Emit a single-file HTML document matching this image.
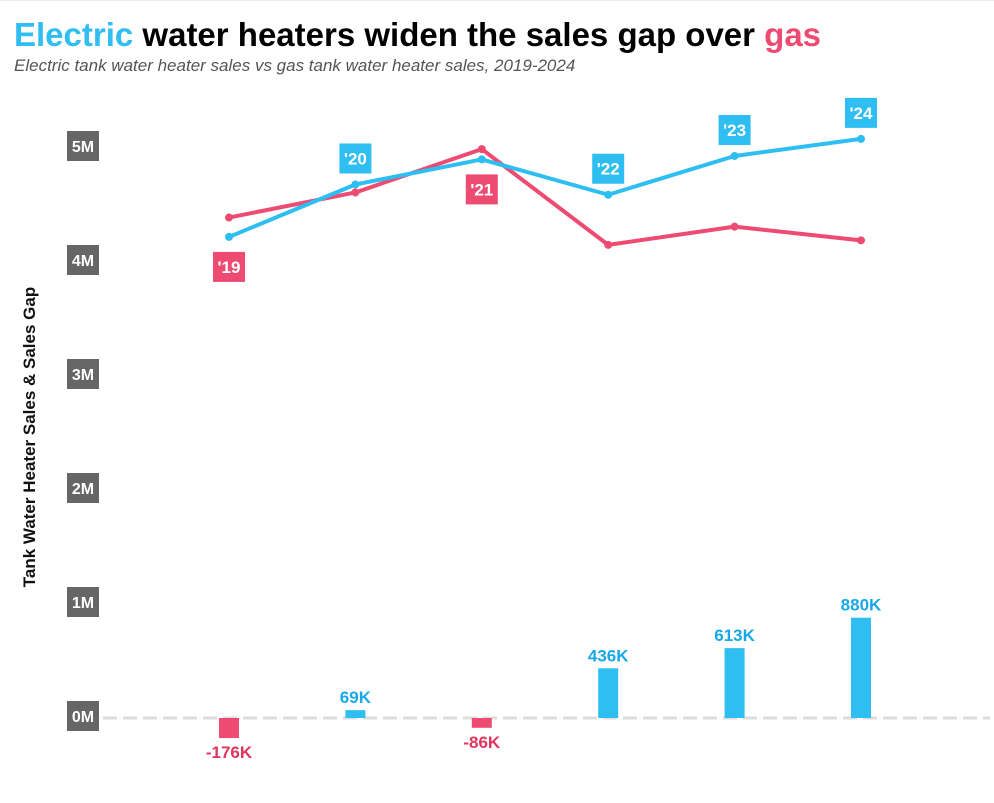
<!DOCTYPE html>
<html><head><meta charset="utf-8"><style>
body{margin:0;background:#fff;font-family:"Liberation Sans",Arial,sans-serif}
#wrap{position:relative;width:994px;height:802px;overflow:hidden;border-top:1px solid #eee}
</style></head><body>
<div id="wrap">
<svg id="chart" width="994" height="802">
<text x="14" y="45" font-size="33" font-weight="bold" font-family="Liberation Sans, sans-serif"><tspan fill="#2ebef2">Electric</tspan><tspan fill="#000"> water heaters widen the sales gap over </tspan><tspan fill="#ee4b72">gas</tspan></text>
<text x="14" y="70" font-size="17" font-style="italic" fill="#555" font-family="Liberation Sans, sans-serif">Electric tank water heater sales vs gas tank water heater sales, 2019-2024</text>
<text transform="translate(35,436) rotate(-90)" text-anchor="middle" font-size="17" font-weight="bold" fill="#111" font-family="Liberation Sans, sans-serif">Tank Water Heater Sales &amp; Sales Gap</text>
<g id="g"></g>
</svg>
</div>
<script>
const years=['2019','2020','2021','2022','2023','2024'];
const yearLabels=["'19","'20","'21","'22","'23","'24"];
const electric=[4.22,4.68,4.90,4.59,4.93,5.08];
const gas=[4.39,4.61,4.99,4.15,4.31,4.19];
const gap=[-176,69,-86,436,613,880];
const gapLabels=['-176K','69K','-86K','436K','613K','880K'];
const yTicks=[0,1,2,3,4,5];
const yTickLabels=['0M','1M','2M','3M','4M','5M'];

const BLUE='#2ebef2',PINK='#ee4b72';
const ns='http://www.w3.org/2000/svg';
const g=document.getElementById('g');
const x=i=>229+i*126.4;
const y=v=>717-v*114;
function mk(t,a,p){const e=document.createElementNS(ns,t);for(const k in a)e.setAttribute(k,a[k]);(p||g).appendChild(e);return e;}
yTicks.forEach((v,i)=>{
  const r=mk('rect',{x:67,y:y(v)-17,width:32,height:30,fill:'#666'});
  
  
  const t=mk('text',{x:83,y:y(v)+4,'text-anchor':'middle','font-size':16,'font-weight':'bold',fill:'#fff'});
  t.textContent=yTickLabels[i];
  
  
});
const zl=mk('line',{x1:103,x2:990,y1:y(0),y2:y(0),stroke:'#ddd','stroke-width':3,'stroke-dasharray':'14,6'});


gap.forEach((v,i)=>{
  const val=v/1000;
  const top=Math.min(y(0),y(val)),h=Math.abs(y(val)-y(0));
  const b=mk('rect',{x:x(i)-10,y:top,width:20,height:h,fill:v>=0?BLUE:PINK});
  
  
  const t=mk('text',{x:x(i),y:v>=0?top-7:top+h+20,'text-anchor':'middle','font-size':17,'font-weight':'bold',fill:v>=0?'#18a8e8':'#e0355f'});
  t.textContent=gapLabels[i];
  
  
});
function line(arr,col,name){
  const p=mk('polyline',{points:arr.map((v,i)=>x(i)+','+y(v)).join(' '),fill:'none',stroke:col,'stroke-width':4,'stroke-linejoin':'round'});
  
  
  arr.forEach((v,i)=>{
    const c=mk('circle',{cx:x(i),cy:y(v),r:4,fill:col});
    
    
  });
}
line(gas,PINK,'gas');
line(electric,BLUE,'electric');
years.forEach((yr,i)=>{
  const pos=gap[i]>=0;
  const hiY=Math.min(y(electric[i]),y(gas[i])),loY=Math.max(y(electric[i]),y(gas[i]));
  const by=pos?hiY-41:loY+15;
  const r=mk('rect',{x:x(i)-16,y:by,width:32,height:30,fill:pos?BLUE:PINK});
  
  
  const t=mk('text',{x:x(i),y:by+21,'text-anchor':'middle','font-size':17,'font-weight':'bold',fill:'#fff'});
  t.textContent=yearLabels[i];
  
  
});
</script>
</body></html>
